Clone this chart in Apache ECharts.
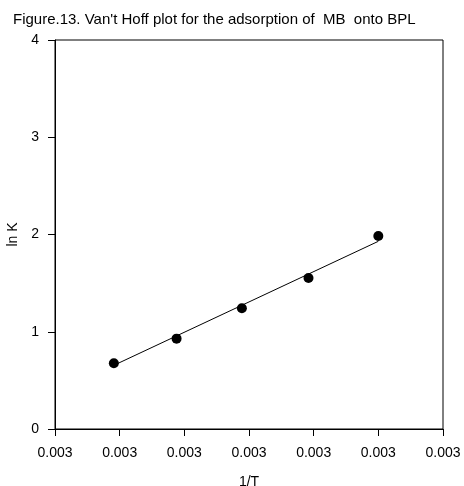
<!DOCTYPE html>
<html>
<head>
<meta charset="utf-8">
<script src="https://cdn.jsdelivr.net/npm/echarts@6/dist/echarts.min.js"></script>
<style>
  html, body { margin: 0; padding: 0; background: #fff; }
  #chart { width: 464px; height: 486px; }
</style>
</head>
<body>
<div id="chart"></div>
<script>
// 1/T values and ln K
const invT = [0.002991, 0.003088, 0.003189, 0.003292, 0.003400];
const lnK = [0.676, 0.929, 1.241, 1.553, 1.985];
// fitted line end points
const fitX = [0.002991, 0.003400];
const fitY = [0.655, 1.930];
const xTickLabels = ['0.003', '0.003', '0.003', '0.003', '0.003', '0.003', '0.003'];

const font = 'Liberation Sans, Arial, sans-serif';

const chart = echarts.init(document.getElementById('chart'));

const option = {
  animation: false,
  backgroundColor: '#fff',
  title: {
    text: "Figure.13. Van't Hoff plot for the adsorption of  MB  onto BPL",
    left: 8,
    top: 7,
    textStyle: { fontFamily: font, fontSize: 15, fontWeight: 'normal', color: '#000' }
  },
  grid: {
    left: 55, right: 21, top: 40, bottom: 57,
    outerBoundsMode: 'none',
    containLabel: false,
    show: true, borderColor: '#000', borderWidth: 1, backgroundColor: 'transparent'
  },
  xAxis: {
    type: 'value',
    min: 0.0029, max: 0.0035, interval: 0.0001,
    name: '1/T',
    nameLocation: 'middle',
    nameGap: 46,
    nameTextStyle: { fontFamily: font, fontSize: 14, color: '#000' },
    axisLine: { show: true, lineStyle: { color: '#000', width: 1 } },
    axisTick: { show: true, inside: false, length: 7, lineStyle: { color: '#000' } },
    axisLabel: {
      margin: 17, fontFamily: font, fontSize: 14, color: '#000',
      formatter: (v, i) => xTickLabels[i]
    },
    splitLine: { show: false }
  },
  yAxis: {
    type: 'value',
    min: 0, max: 4, interval: 1,
    name: 'ln K',
    nameLocation: 'middle',
    nameGap: 35,
    nameTextStyle: { fontFamily: font, fontSize: 14, color: '#000' },
    axisLine: { show: true, lineStyle: { color: '#000', width: 1 } },
    axisTick: { show: true, inside: false, length: 7, lineStyle: { color: '#000' } },
    axisLabel: { margin: 16, fontFamily: font, fontSize: 14, color: '#000' },
    splitLine: { show: false }
  },
  series: [
    {
      type: 'line',
      data: fitX.map((x, i) => [x, fitY[i]]),
      showSymbol: false,
      lineStyle: { color: '#000', width: 1 },
      z: 2
    },
    {
      type: 'scatter',
      data: invT.map((x, i) => [x, lnK[i]]),
      symbol: 'circle',
      symbolSize: 10,
      itemStyle: { color: '#000', opacity: 1 },
      z: 3
    }
  ]
};

chart.setOption(option);
</script>
</body>
</html>
